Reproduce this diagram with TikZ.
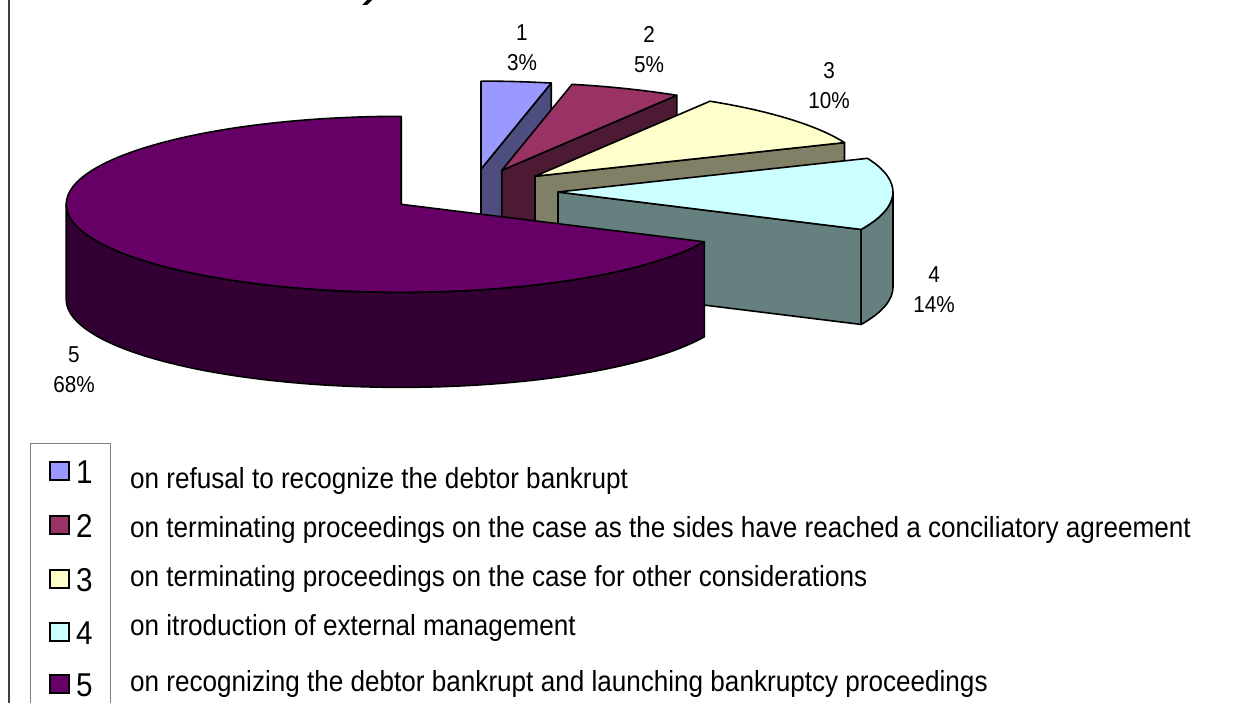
\documentclass[tikz,border=0pt]{standalone}
\usepackage{fontspec}
\setmainfont{Liberation Sans}
\newfontfamily\chartfont[FakeStretch=0.9]{Liberation Sans}
\usetikzlibrary{positioning,calc}
\definecolor{sliceA}{HTML}{9999FF}
\definecolor{sliceAside}{HTML}{4D4D80}
\definecolor{sliceB}{HTML}{993366}
\definecolor{sliceBside}{HTML}{4D1A33}
\definecolor{sliceC}{HTML}{FFFFCC}
\definecolor{sliceCside}{HTML}{808066}
\definecolor{sliceD}{HTML}{CCFFFF}
\definecolor{sliceDside}{HTML}{668080}
\definecolor{sliceE}{HTML}{660066}
\definecolor{sliceEside}{HTML}{330033}

\begin{document}
\begin{tikzpicture}[x=1pt,y=1pt,
    face/.style={draw=black,line width=1.6pt,line join=round},
    pie radii/.style={x radius=335,y radius=88},
    pielabel/.style={font=\chartfont\fontsize{23}{30}\selectfont,align=center,inner sep=0pt},
    swatch/.style={draw=black,line width=1.8pt,minimum width=19pt,minimum height=18pt,inner sep=0pt},
    keynum/.style={font=\chartfont\fontsize{33}{33}\selectfont,inner sep=0pt,anchor=base west},
    keytext/.style={font=\chartfont\fontsize{29}{32}\selectfont,inner sep=0pt,anchor=west}]
\useasboundingbox (0,0) rectangle (1258,-703);
\fill[white] (0,0) rectangle (1258,-703);

% frame and cut-off title
\draw[line width=2pt,black!75] (9,0) -- (9,-703);
\fill[black] (362,-5) -- (367,-5) -- (372,0) -- (367,0) -- cycle;

% exploded slices
\coordinate (o)  at (473,-192);
\coordinate (c1) at ($(o)+(84.6:85 and 23)$);
\coordinate (c2) at ($(o)+(70.2:85 and 23)$);
\coordinate (c3) at ($(o)+(43.2:85 and 23)$);
\coordinate (c4) at ($(o)+(0:85 and 23)$);
\coordinate (c5) at ($(o)+(212.4:85 and 23)$);

% slice 1
\filldraw[face,fill=sliceAside] (c1) -- ++(77.9:335 and 88) -- ++(0,-95) -- ($(c1)+(0,-95)$) -- cycle;
\filldraw[face,fill=sliceA] (c1) -- ++(77.9:335 and 88) arc[start angle=77.9,end angle=90,pie radii] -- cycle;
% slice 2
\filldraw[face,fill=sliceBside] (c2) -- ++(58.5:335 and 88) -- ++(0,-95) -- ($(c2)+(0,-95)$) -- cycle;
\filldraw[face,fill=sliceB] (c2) -- ++(58.5:335 and 88) arc[start angle=58.5,end angle=77.9,pie radii] -- cycle;
% slice 3
\filldraw[face,fill=sliceCside] (c3) -- ++(22.5:335 and 88) -- ++(0,-95) -- ($(c3)+(0,-95)$) -- cycle;
\filldraw[face,fill=sliceC] (c3) -- ++(22.5:335 and 88) arc[start angle=22.5,end angle=58.5,pie radii] -- cycle;
% slice 4
\filldraw[face,fill=sliceDside] (c4) -- ++(-25.2:335 and 88) -- ++(0,-95) -- ($(c4)+(0,-95)$) -- cycle;
\filldraw[face,fill=sliceDside] ($(c4)+(-25.2:335 and 88)$) arc[start angle=-25.2,end angle=0,pie radii]
    -- ++(0,-95) arc[start angle=0,end angle=-25.2,pie radii] -- cycle;
\filldraw[face,fill=sliceD] (c4) -- ++(-25.2:335 and 88) arc[start angle=-25.2,end angle=22.5,pie radii] -- cycle;
% slice 5
\filldraw[face,fill=sliceEside] ($(c5)+(180:335 and 88)$) arc[start angle=180,end angle=334.8,pie radii]
    -- ++(0,-95) arc[start angle=334.8,end angle=180,pie radii] -- cycle;
\filldraw[face,fill=sliceE] (c5) -- ++(90:335 and 88) arc[start angle=90,end angle=334.8,pie radii] -- cycle;

% data labels
\node[pielabel] (lab1) at (522,-48)  {1\\3\%};
\node[pielabel] (lab2) at (649,-50)  {2\\5\%};
\node[pielabel] (lab3) at (829,-86)  {3\\10\%};
\node[pielabel] (lab4) at (934,-290) {4\\14\%};
\node[pielabel] (lab5) at (74,-370)  {5\\68\%};

% legend
\draw[gray,line width=1pt] (30,-703) -- (30,-443) -- (110,-443) -- (110,-703);
\foreach \i/\col/\y in {1/sliceA/471,2/sliceB/525,3/sliceC/579,4/sliceD/632,5/sliceE/684}{
  \node[swatch,fill=\col] (sw\i) at (59.5,-\y) {};
  \node[keynum] (num\i) at (76,-\y-12) {\i};
}
\node[keytext] (key1) at (130,-481) {on refusal to recognize the debtor bankrupt};
\node[keytext] (key2) at (130,-530) {on terminating proceedings on the case as the sides have reached a conciliatory agreement};
\node[keytext] (key3) at (130,-579) {on terminating proceedings on the case for other considerations};
\node[keytext] (key4) at (130,-628) {on itroduction of external management};
\node[keytext] (key5) at (130,-684) {on recognizing the debtor bankrupt and launching bankruptcy proceedings};
\end{tikzpicture}
\end{document}
